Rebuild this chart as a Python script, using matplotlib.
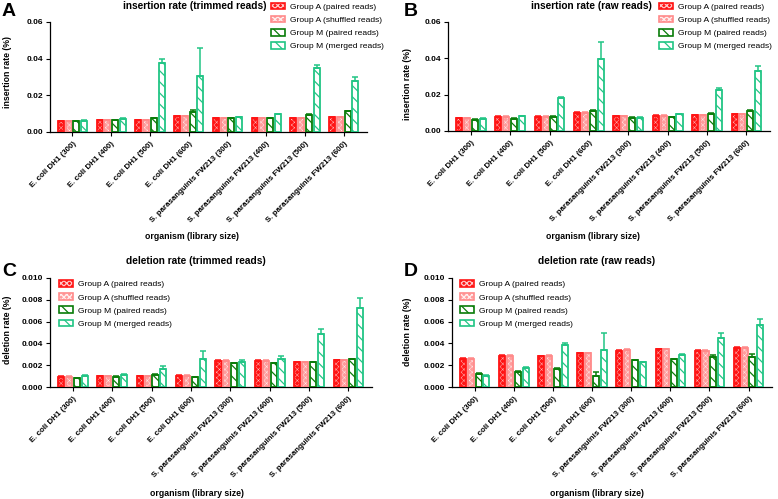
import matplotlib
matplotlib.use('Agg')
import matplotlib.pyplot as plt
import numpy as np
from matplotlib.patches import Patch
from matplotlib.legend_handler import HandlerTuple

plt.rcParams['font.family'] = ['Liberation Sans', 'DejaVu Sans']
plt.rcParams['hatch.linewidth'] = 0.9

categories = ["E. coli DH1 (300)", "E. coli DH1 (400)", "E. coli DH1 (500)", "E. coli DH1 (600)",
              "S. parasanguinis FW213 (300)", "S. parasanguinis FW213 (400)",
              "S. parasanguinis FW213 (500)", "S. parasanguinis FW213 (600)"]
series_names = ["Group A (paired reads)", "Group A (shuffled reads)",
                "Group M (paired reads)", "Group M (merged reads)"]

# Panel A: insertion rate (trimmed reads)
ins_trim_A_paired = [0.0061, 0.0066, 0.0067, 0.0088, 0.0077, 0.0077, 0.0077, 0.0081]
ins_trim_A_shuffled = [0.0061, 0.0066, 0.0067, 0.0088, 0.0077, 0.0077, 0.0077, 0.0081]
ins_trim_M_paired = [0.0059, 0.0065, 0.0074, 0.0108, 0.0074, 0.0074, 0.0093, 0.0112]
ins_trim_M_merged = [0.0061, 0.0073, 0.0376, 0.0307, 0.0082, 0.0097, 0.0347, 0.0280]
ins_trim_M_paired_err = [0.0002, 0.0002, 0.0003, 0.0013, 0.0002, 0.0002, 0.0003, 0.0005]
ins_trim_M_merged_err = [0.0002, 0.0002, 0.0022, 0.0150, 0.0002, 0.0003, 0.0018, 0.0018]

# Panel B: insertion rate (raw reads)
ins_raw_A_paired = [0.0073, 0.0079, 0.0079, 0.0101, 0.0083, 0.0085, 0.0087, 0.0091]
ins_raw_A_shuffled = [0.0073, 0.0079, 0.0079, 0.0101, 0.0083, 0.0085, 0.0087, 0.0091]
ins_raw_M_paired = [0.0063, 0.0068, 0.0077, 0.0110, 0.0073, 0.0077, 0.0096, 0.0108]
ins_raw_M_merged = [0.0067, 0.0083, 0.0180, 0.0394, 0.0073, 0.0093, 0.0224, 0.0329]
ins_raw_M_paired_err = [0.0002, 0.0002, 0.0003, 0.0005, 0.0002, 0.0002, 0.0003, 0.0005]
ins_raw_M_merged_err = [0.0002, 0.0002, 0.0005, 0.0097, 0.0002, 0.0002, 0.0015, 0.0029]

# Panel C: deletion rate (trimmed reads)
del_trim_A_paired = [0.00095, 0.00099, 0.00101, 0.00104, 0.00241, 0.00241, 0.00229, 0.00247]
del_trim_A_shuffled = [0.00095, 0.00099, 0.00101, 0.00104, 0.00241, 0.00241, 0.00229, 0.00247]
del_trim_M_paired = [0.00078, 0.00095, 0.00110, 0.00089, 0.00218, 0.00218, 0.00229, 0.00256]
del_trim_M_merged = [0.00101, 0.00113, 0.00165, 0.00256, 0.00229, 0.00253, 0.00484, 0.00728]
del_trim_M_paired_err = [0.00003, 0.00003, 0.00005, 0.00005, 0.00005, 0.00003, 0.00003, 0.00003]
del_trim_M_merged_err = [0.00005, 0.00005, 0.00032, 0.00073, 0.00020, 0.00031, 0.00052, 0.00090]

# Panel D: deletion rate (raw reads)
del_raw_A_paired = [0.00259, 0.00284, 0.00281, 0.00308, 0.00332, 0.00345, 0.00334, 0.00359]
del_raw_A_shuffled = [0.00259, 0.00284, 0.00286, 0.00310, 0.00342, 0.00345, 0.00334, 0.00359]
del_raw_M_paired = [0.00120, 0.00139, 0.00168, 0.00097, 0.00244, 0.00256, 0.00276, 0.00276]
del_raw_M_merged = [0.00104, 0.00178, 0.00384, 0.00341, 0.00229, 0.00298, 0.00451, 0.00566]
del_raw_M_paired_err = [0.00004, 0.00004, 0.00005, 0.00037, 0.00004, 0.00004, 0.00020, 0.00030]
del_raw_M_merged_err = [0.00004, 0.00005, 0.00018, 0.00150, 0.00004, 0.00005, 0.00048, 0.00058]

RED = '#ff1414'
PINK = '#ff9c9c'
PINK_EDGE = '#ff8a8a'
DGREEN = '#0a7d0a'
MGREEN = '#22c585'

styles = [
    dict(face=RED, edge=RED, hatch='xxxxxx', hatchcolor='#ffc8c8', filled=True, hlw=0.3),
    dict(face=PINK, edge=PINK_EDGE, hatch='xxxxxx', hatchcolor='#fff0f0', filled=True, hlw=0.3),
    dict(face='white', edge=DGREEN, hatch='\\\\\\', hatchcolor=DGREEN, filled=False, hlw=0.9),
    dict(face='white', edge=MGREEN, hatch='\\\\\\', hatchcolor=MGREEN, filled=False, hlw=0.9),
]

W, H = 778, 499
fig = plt.figure(figsize=(W / 100, H / 100), dpi=100)


def rect(l, t, r, b):
    return [l / W, 1 - b / H, (r - l) / W, (b - t) / H]


def handles():
    hs = []
    for st in styles:
        with plt.rc_context({'hatch.linewidth': st['hlw']}):
            if st['filled']:
                hs.append((Patch(facecolor=st['face'], edgecolor='none', lw=0),
                           Patch(facecolor='none', edgecolor=st['hatchcolor'], hatch=st['hatch'], lw=0.05),
                           Patch(facecolor='none', edgecolor=st['edge'], lw=1.2)))
            else:
                hs.append((Patch(facecolor='white', edgecolor=st['hatchcolor'], hatch=st['hatch'], lw=0.05),
                           Patch(facecolor='none', edgecolor=st['edge'], lw=1.2)))
    return hs


def panel(box, series, errs, ymax, ystep, fmt, title, title_xy, ylabel, ylabel_xy,
          xlabel_xy, letter, letter_xy, legend_xy):
    ax = fig.add_axes(rect(*box))
    x = np.arange(len(categories))
    offsets = [-0.3, -0.1, 0.1, 0.3]
    width = 0.155
    for vals, err, st, off in zip(series, errs, styles, offsets):
        pos = x + off
        vals = np.array(vals)
        with plt.rc_context({'hatch.linewidth': st['hlw']}):
            if st['filled']:
                ax.bar(pos, vals, width, color=st['face'], edgecolor='none', lw=0, zorder=2)
                ax.bar(pos, vals, width, facecolor='none', edgecolor=st['hatchcolor'],
                       hatch=st['hatch'], lw=0.05, zorder=3)
            else:
                ax.bar(pos, vals, width, facecolor='white', edgecolor=st['hatchcolor'],
                       hatch=st['hatch'], lw=0.05, zorder=2)
        ax.bar(pos, vals, width, facecolor='none', edgecolor=st['edge'], lw=1.3, zorder=4)
        ax.errorbar(pos, vals, yerr=[np.zeros(len(vals)), np.array(err)], fmt='none',
                    ecolor=st['edge'], elinewidth=1.1, capsize=2, capthick=1.1, zorder=5)
    ax.set_xlim(-0.58, 7.6)
    ax.set_ylim(0, ymax)
    ticks = np.arange(0, ymax + ystep / 2, ystep)
    ax.set_yticks(ticks)
    ax.set_yticklabels([fmt % v for v in ticks], fontsize=6.0, fontweight='bold')
    ax.set_xticks(x)
    ax.set_xticklabels(categories, rotation=45, ha='right', rotation_mode='anchor',
                       fontsize=5.7, fontweight='bold')
    ax.tick_params(axis='both', direction='out', length=3, width=0.8, pad=2)
    ax.tick_params(axis='x', pad=3)
    for s in ['top', 'right']:
        ax.spines[s].set_visible(False)
    for s in ['left', 'bottom']:
        ax.spines[s].set_linewidth(0.9)
    fig.text(title_xy[0] / W, 1 - title_xy[1] / H, title, ha='center', va='center',
             fontsize=7.3, fontweight='bold')
    fig.text(ylabel_xy[0] / W, 1 - ylabel_xy[1] / H, ylabel, ha='center', va='center',
             rotation=90, fontsize=6.3, fontweight='bold')
    fig.text(xlabel_xy[0] / W, 1 - xlabel_xy[1] / H, "organism (library size)", ha='center',
             va='center', fontsize=6.3, fontweight='bold')
    fig.text(letter_xy[0] / W, 1 - letter_xy[1] / H, letter, ha='left', va='center',
             fontsize=14, fontweight='bold')
    ax.legend(handles(), series_names, handler_map={tuple: HandlerTuple(ndivide=1, pad=0)},
              loc='upper left', bbox_to_anchor=(legend_xy[0] / W, 1 - legend_xy[1] / H),
              bbox_transform=fig.transFigure, frameon=False, borderpad=0, borderaxespad=0,
              fontsize=6.1, handlelength=1.7, handleheight=0.85, handletextpad=0.6,
              labelspacing=0.58)
    return ax


panel((50, 22, 367, 132),
      [ins_trim_A_paired, ins_trim_A_shuffled, ins_trim_M_paired, ins_trim_M_merged],
      [[0.0001] * 8, [0.0001] * 8, ins_trim_M_paired_err, ins_trim_M_merged_err],
      0.06, 0.02, '%.2f', 'insertion rate (trimmed reads)', (195, 6),
      'insertion rate (%)', (8, 72), (192, 237), 'A', (2, 11), (271, 2.5))

panel((448, 22, 770, 131),
      [ins_raw_A_paired, ins_raw_A_shuffled, ins_raw_M_paired, ins_raw_M_merged],
      [[0.0001] * 8, [0.0001] * 8, ins_raw_M_paired_err, ins_raw_M_merged_err],
      0.06, 0.02, '%.2f', 'insertion rate (raw reads)', (591, 6),
      'insertion rate (%)', (408, 84), (593, 237), 'B', (404, 11), (659, 2.5))

panel((50, 278, 372, 387),
      [del_trim_A_paired, del_trim_A_shuffled, del_trim_M_paired, del_trim_M_merged],
      [[0.00003] * 8, [0.00003] * 8, del_trim_M_paired_err, del_trim_M_merged_err],
      0.010, 0.002, '%.3f', 'deletion rate (trimmed reads)', (196, 261),
      'deletion rate (%)', (8, 330), (197, 493), 'C', (2, 272), (59, 280))

panel((452, 278, 772, 387),
      [del_raw_A_paired, del_raw_A_shuffled, del_raw_M_paired, del_raw_M_merged],
      [[0.00005] * 8, [0.00005] * 8, del_raw_M_paired_err, del_raw_M_merged_err],
      0.010, 0.002, '%.3f', 'deletion rate (raw reads)', (597, 261),
      'deletion rate (%)', (407, 332), (597, 493), 'D', (404, 272), (460, 280))

fig.savefig('out.png', dpi=100)
